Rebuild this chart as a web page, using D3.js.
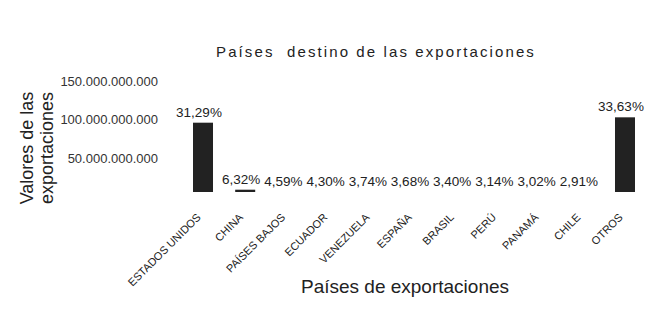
<!DOCTYPE html>
<html>
<head>
<meta charset="utf-8">
<script src="https://cdn.jsdelivr.net/npm/d3@7"></script>
<style>
  body { margin: 0; background: #fff; }
  text { font-family: "Liberation Sans", Arial, sans-serif; }
</style>
</head>
<body>
<div id="chart"></div>
<script>
// countries (x axis)
const paises = ["ESTADOS UNIDOS", "CHINA", "PAÍSES BAJOS", "ECUADOR", "VENEZUELA",
                "ESPAÑA", "BRASIL", "PERÚ", "PANAMÁ", "CHILE", "OTROS"];
// bar heights as drawn (only 3 bars are visible in the original)
const valores = [90.4e9, 3e9, 0, 0, 0, 0, 0, 0, 0, 0, 97.4e9];
// data labels
const porcentajes = ["31,29%", "6,32%", "4,59%", "4,30%", "3,74%", "3,68%",
                     "3,40%", "3,14%", "3,02%", "2,91%", "33,63%"];
const yTicks = [50e9, 100e9, 150e9];

const W = 669, H = 313;

const svg = d3.select("#chart").append("svg")
    .attr("width", W)
    .attr("height", H);

const x = d3.scaleBand()
    .domain(paises)
    .range([193, 635])
    .paddingInner(0.526)
    .paddingOuter(0);

const y = d3.scaleLinear()
    .domain([0, 150e9])
    .range([192, 77]);

// spanish number format 150.000.000.000
const es = d3.formatLocale({decimal: ",", thousands: ".", grouping: [3], currency: ["", ""]});

// title
svg.append("text")
    .attr("x", 376)
    .attr("y", 57)
    .attr("text-anchor", "middle")
    .style("font-size", "15px")
    .style("letter-spacing", "2.1px")
    .style("white-space", "pre")
    .attr("fill", "#222")
    .text("Países  destino de las exportaciones");

// y axis (no line, no ticks)
const yAxis = svg.append("g")
    .attr("transform", "translate(162,0)")
    .call(d3.axisLeft(y).tickValues(yTicks).tickSize(0).tickPadding(4).tickFormat(es.format(",")));
yAxis.select(".domain").remove();
yAxis.selectAll("text")
    .attr("dy", "0.65em")
    .style("font-size", "13px")
    .style("font-family", "'Liberation Sans', Arial, sans-serif")
    .attr("fill", "#333");

// y title, two lines
const yTitle = svg.append("text")
    .attr("transform", "translate(0,148) rotate(-90)")
    .attr("text-anchor", "middle")
    .style("font-size", "18px")
    .attr("fill", "#222");
yTitle.append("tspan").attr("x", 0).attr("y", 33).text("Valores de las");
yTitle.append("tspan").attr("x", 0).attr("y", 53).text("exportaciones");

// bars
svg.selectAll("rect.bar")
  .data(paises)
  .join("rect")
    .attr("class", "bar")
    .attr("x", d => x(d))
    .attr("width", x.bandwidth())
    .attr("y", (d, i) => y(valores[i]))
    .attr("height", (d, i) => y(0) - y(valores[i]))
    .attr("fill", "#222");

// data labels
svg.selectAll("text.pct")
  .data(paises)
  .join("text")
    .attr("class", "pct")
    .attr("x", d => x(d) + x.bandwidth() / 2 - 4)
    .attr("y", (d, i) => y(valores[i]) - 6)
    .attr("text-anchor", "middle")
    .style("font-size", "13.5px")
    .attr("fill", "#222")
    .text((d, i) => porcentajes[i]);

// x axis labels rotated
svg.selectAll("text.cat")
  .data(paises)
  .join("text")
    .attr("class", "cat")
    .attr("transform", d => `translate(${x(d) + x.bandwidth() / 2 - 1.5},218) rotate(-45)`)
    .attr("text-anchor", "end")
    .style("font-size", "11px")
    .attr("fill", "#222")
    .text(d => d);

// x title
svg.append("text")
    .attr("x", 405)
    .attr("y", 293)
    .attr("text-anchor", "middle")
    .style("font-size", "19px")
    .attr("fill", "#222")
    .text("Países de exportaciones");
</script>
</body>
</html>
